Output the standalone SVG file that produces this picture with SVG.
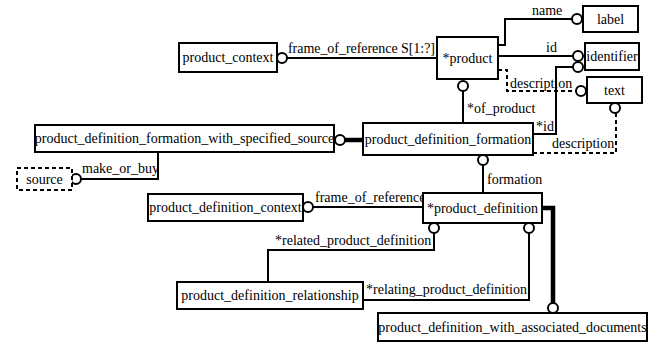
<svg xmlns="http://www.w3.org/2000/svg" width="653" height="342" viewBox="0 0 653 342" font-family="'Liberation Serif', 'Times New Roman', 'DejaVu Serif', serif" font-size="14">
<style>
  .box { fill: #fff; stroke: #000; stroke-width: 2; }
  .dbox { fill: #fff; stroke: #000; stroke-width: 2; stroke-dasharray: 4 3; }
  text { font-family: 'Liberation Serif', 'Times New Roman', 'DejaVu Serif', serif; font-size: 14px; fill: #000; }
  .c { text-anchor: middle; }
  .ln { fill: none; stroke: #000; stroke-width: 2; }
  .dl { fill: none; stroke: #000; stroke-width: 2; stroke-dasharray: 4 3; }
  .th { fill: none; stroke: #000; stroke-width: 4.5; }
  .o { fill: #fff; stroke: #000; stroke-width: 2; }
</style>
<rect width="653" height="342" fill="#fff"/>
<g id="connectors">
  <path class="ln" d="M287,58 H437"/>
  <circle class="o" cx="282" cy="58" r="5"/>
  <text x="288" y="53" textLength="147" lengthAdjust="spacing">frame_of_reference S[1:?]</text>

  <path class="ln" d="M498,45 H505 V19 H572"/>
  <circle class="o" cx="577" cy="19" r="5"/>
  <text x="532" y="15">name</text>

  <path class="ln" d="M498,56 H573"/>
  <circle class="o" cx="578" cy="56" r="5"/>
  <text x="546" y="52">id</text>

  <path class="ln" d="M533,134 H556 V67 H573"/>
  <circle class="o" cx="578" cy="67" r="5"/>
  <text x="536" y="131">*id</text>

  <path class="dl" d="M498,70 H507 V91 H576"/>
  <circle class="o" cx="581" cy="91" r="5"/>
  <text x="510" y="88">description</text>

  <path class="dl" d="M533,153 H616 V113"/>
  <circle class="o" cx="615" cy="108" r="5"/>
  <text x="552" y="148">description</text>

  <path class="ln" d="M463,91 V123"/>
  <circle class="o" cx="463" cy="86" r="5"/>
  <text x="467" y="113">*of_product</text>

  <path class="th" d="M345,140 H363"/>
  <circle class="o" cx="340" cy="140" r="5"/>

  <path class="ln" d="M81,179 H158 V152"/>
  <circle class="o" cx="76" cy="179" r="5"/>
  <text x="82" y="173">make_or_buy</text>

  <path class="ln" d="M483,165 V193"/>
  <circle class="o" cx="483" cy="160" r="5"/>
  <text x="487" y="184">formation</text>

  <path class="ln" d="M313,207 H423"/>
  <circle class="o" cx="308" cy="207" r="5"/>
  <text x="315" y="202">frame_of_reference</text>

  <path class="ln" d="M434,233 V250 H268 V282"/>
  <circle class="o" cx="434" cy="228" r="5"/>
  <text x="275" y="245">*related_product_definition</text>

  <path class="ln" d="M529,233 V300 H363"/>
  <circle class="o" cx="529" cy="228" r="5"/>
  <text x="366" y="294">*relating_product_definition</text>

  <path class="th" d="M542,208 H553 V303"/>
  <circle class="o" cx="553" cy="308" r="5"/>
</g>
<g id="product_context"><rect class="box" x="179" y="43" width="98" height="29"/><text class="c" x="228" y="62">product_context</text></g>
<g id="product"><rect class="box" x="437" y="37" width="61" height="42"/><text class="c" x="467.5" y="63">*product</text></g>
<g id="label"><rect class="box" x="583" y="6" width="55" height="26"/><text class="c" x="610.5" y="24">label</text></g>
<g id="identifier"><rect class="box" x="585" y="43" width="54" height="27"/><text class="c" x="612" y="61">identifier</text></g>
<g id="text"><rect class="box" x="587" y="77" width="55" height="26"/><text class="c" x="614.5" y="95">text</text></g>
<g id="product_definition_formation"><rect class="box" x="363" y="123" width="170" height="32"/><text class="c" x="448" y="144">product_definition_formation</text></g>
<g id="product_definition_formation_with_specified_source"><rect class="box" x="35" y="125" width="299" height="27"/><text class="c" x="184.5" y="143">product_definition_formation_with_specified_source</text></g>
<g id="source"><rect class="dbox" x="17" y="168" width="55" height="22"/><text class="c" x="44.5" y="184">source</text></g>
<g id="product_definition_context"><rect class="box" x="148" y="194" width="155" height="27"/><text class="c" x="225.5" y="212">product_definition_context</text></g>
<g id="product_definition"><rect class="box" x="423" y="193" width="119" height="30"/><text class="c" x="482.5" y="213">*product_definition</text></g>
<g id="product_definition_relationship"><rect class="box" x="177" y="282" width="186" height="27"/><text class="c" x="270" y="300">product_definition_relationship</text></g>
<g id="product_definition_with_associated_documents"><rect class="box" x="378" y="313" width="269" height="28"/><text class="c" x="512.5" y="332">product_definition_with_associated_documents</text></g>
</svg>
